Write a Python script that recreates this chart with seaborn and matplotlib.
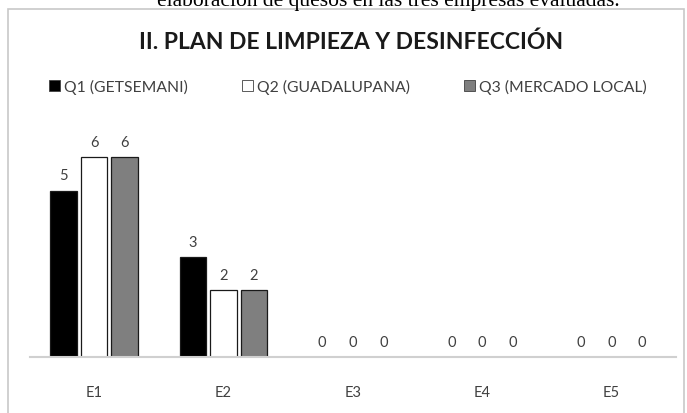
import pandas as pd
import matplotlib.pyplot as plt
import seaborn as sns
from matplotlib.patches import Patch, Rectangle

# -------- DATA --------
empresas = ["E1", "E2", "E3", "E4", "E5"]
q1_getsemani = [5, 3, 0, 0, 0]
q2_guadalupana = [6, 2, 0, 0, 0]
q3_mercado = [6, 2, 0, 0, 0]
series_names = ["Q1 (GETSEMANI)", "Q2 (GUADALUPANA)", "Q3 (MERCADO LOCAL)"]
colors = ["#000000", "#ffffff", "#7f7f7f"]
# ----------------------

df = pd.DataFrame({
    "empresa": empresas * 3,
    "valor": q1_getsemani + q2_guadalupana + q3_mercado,
    "serie": [s for s in series_names for _ in empresas],
})

sns.set_style("white")
plt.rcParams["font.family"] = ["Lato", "DejaVu Sans"]

fig = plt.figure(figsize=(6.87, 4.14), dpi=100)
W, H = 687, 414

# caption of the document, cut off by the top edge (as in the source page)
fig.text(0.565, 1 - 6 / H, "elaboración de quesos en las tres empresas evaluadas.",
         ha="center", va="baseline", fontsize=15.5, family="Liberation Serif", color="black")

# chart border
fig.patches.append(Rectangle((8 / W, -0.05), (684 - 8) / W, 1.05 - 10 / H,
                             transform=fig.transFigure, fill=False,
                             edgecolor="#c8c8c8", linewidth=1.2))

ax = fig.add_axes([29.5 / W, 1 - 358 / H, (676 - 29.5) / W, (358 - 125) / H])
palette = dict(zip(series_names, colors))
sns.barplot(data=df, x="empresa", y="valor", hue="serie", hue_order=series_names,
            palette=palette, width=0.71, gap=0.13, edgecolor="#1a1a1a",
            linewidth=0.9, legend=False, ax=ax)

for bar in ax.patches:
    if bar.get_height() == 0:
        bar.set_linewidth(0)

for cont in ax.containers:
    ax.bar_label(cont, padding=6, fontsize=10.5, color="#404040")

ax.set_ylim(0, 7)
ax.set_xlim(-0.5, 4.5)
ax.set_xlabel("")
ax.set_ylabel("")
ax.set_yticks([])
for side in ["left", "right", "top"]:
    ax.spines[side].set_visible(False)
ax.spines["bottom"].set_color("#d0d0d0")
ax.spines["bottom"].set_linewidth(1.5)
ax.tick_params(axis="x", length=0, pad=20, labelsize=10.5, labelcolor="#404040")

fig.text(351 / W, 1 - 42 / H, "II. PLAN DE LIMPIEZA Y DESINFECCIÓN",
         ha="center", va="center", fontsize=16.5, fontweight="bold", color="#1a1a1a")

handles = [Patch(facecolor=c, edgecolor="#404040", linewidth=0.6) for c in colors]
fig.legend(handles, series_names, loc="center", bbox_to_anchor=(348 / W, 1 - 87 / H),
           ncol=3, frameon=False, fontsize=11.3, labelcolor="#404040",
           handlelength=0.7, handleheight=0.7, handletextpad=0.3, columnspacing=3.4)

plt.savefig("out.png", dpi=100)
